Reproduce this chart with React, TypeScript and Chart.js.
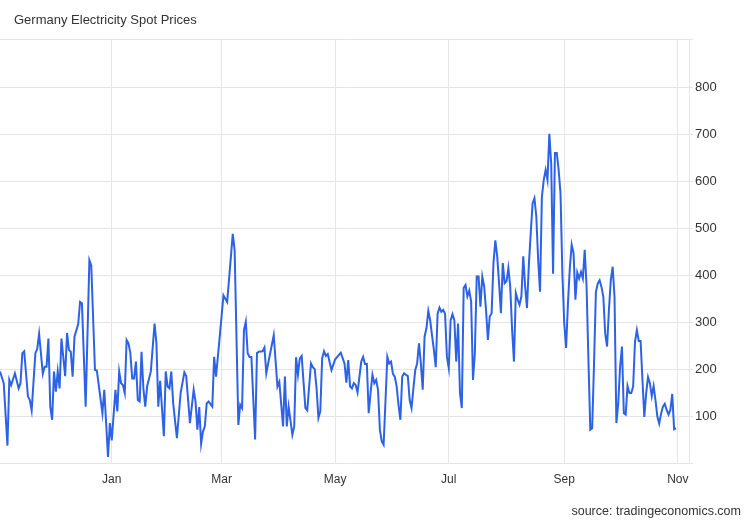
import { useEffect, useRef } from "react"
import { Chart, registerables } from "chart.js"

Chart.register(...registerables)

// day offset from 1 Jan 2022 and the daily spot price (EUR/MWh) on that day
const days: number[] = [
    -60, -58, -56, -55, -54, -52, -50, -49, -48, -47, -45, -44, -43, -41, -40, -39,
    -37, -36, -35, -34, -33, -32, -31, -30, -29, -28, -27, -25, -24, -23, -22, -21,
    -20, -18, -17, -16, -14, -12, -11, -9, -8, -5, -4, -2, -1, 0, 2, 3,
    4, 5, 6, 7, 8, 9, 10, 11, 12, 13, 14, 15, 16, 17, 18, 19,
    21, 23, 24, 25, 26, 28, 29, 30, 31, 32, 33, 35, 37, 39, 40, 42,
    44, 45, 46, 47, 48, 49, 50, 51, 52, 54, 55, 56, 58, 60, 61, 62,
    65, 66, 68, 69, 70, 71, 72, 73, 74, 75, 77, 78, 79, 81, 82, 83,
    84, 87, 89, 90, 92, 93, 94, 95, 97, 98, 99, 100, 101, 102, 104, 105,
    107, 108, 109, 110, 111, 112, 113, 114, 115, 116, 118, 120, 123, 125, 126, 127,
    128, 129, 130, 131, 132, 134, 135, 136, 137, 138, 139, 140, 141, 142, 143, 144,
    145, 146, 147, 148, 149, 150, 151, 152, 153, 154, 155, 156, 157, 158, 159, 160,
    161, 162, 163, 164, 165, 166, 167, 168, 169, 170, 171, 172, 173, 174, 175, 176,
    177, 178, 179, 180, 181, 182, 183, 184, 185, 186, 187, 188, 189, 190, 191, 192,
    193, 194, 195, 196, 197, 198, 199, 200, 201, 202, 203, 204, 205, 206, 207, 208,
    209, 210, 211, 212, 213, 214, 215, 216, 217, 218, 219, 220, 221, 222, 223, 224,
    225, 226, 227, 228, 229, 230, 231, 232, 233, 234, 235, 236, 237, 238, 239, 240,
    241, 242, 243, 244, 245, 246, 247, 248, 249, 250, 251, 252, 253, 254, 255, 256,
    257, 258, 259, 260, 261, 262, 263, 264, 265, 266, 267, 268, 269, 270, 271, 272,
    273, 274, 275, 276, 277, 278, 279, 280, 281, 282, 283, 284, 285, 286, 287, 288,
    289, 290, 291, 292, 293, 294, 295, 296, 297, 298, 299, 300, 301, 302, 303
]

const prices: number[] = [
    195, 170, 37, 177, 166, 191, 159, 170, 234, 238, 142, 134, 112, 234, 243, 275,
    190, 205, 205, 265, 120, 92, 195, 152, 195, 159, 265, 185, 277, 241, 237, 184,
    269, 296, 343, 340, 120, 432, 421, 198, 197, 106, 156, 13, 85, 48, 156, 110,
    195, 170, 166, 149, 262, 255, 234, 180, 180, 216, 134, 131, 237, 159, 120, 163,
    195, 297, 255, 120, 175, 57, 195, 163, 159, 195, 127, 53, 149, 193, 185, 85,
    156, 131, 71, 119, 41, 67, 78, 127, 131, 120, 226, 184, 269, 357, 350, 343,
    488, 453, 81, 124, 117, 283, 301, 234, 226, 226, 50, 234, 237, 238, 246, 191,
    212, 272, 163, 173, 78, 184, 78, 120, 60, 78, 225, 188, 223, 228, 117, 112,
    212, 204, 200, 159, 96, 110, 223, 238, 228, 232, 198, 221, 235, 212, 171, 219,
    163, 159, 170, 166, 150, 216, 226, 211, 211, 106, 149, 188, 170, 177, 156, 71,
    46, 39, 131, 226, 212, 216, 190, 184, 163, 124, 92, 184, 191, 188, 185, 134,
    117, 159, 198, 212, 255, 212, 156, 269, 287, 324, 304, 272, 241, 204, 318, 331,
    322, 326, 318, 226, 202, 304, 317, 304, 216, 297, 150, 117, 373, 379, 355, 367,
    344, 177, 234, 397, 397, 333, 397, 376, 326, 262, 312, 319, 426, 474, 440, 383,
    319, 426, 383, 387, 415, 376, 284, 216, 362, 348, 337, 355, 440, 376, 330, 422,
    489, 553, 564, 525, 433, 365, 567, 603, 624, 603, 701, 638, 403, 660, 660, 624,
    574, 404, 298, 245, 340, 415, 465, 447, 348, 406, 393, 407, 393, 454, 375, 219,
    71, 74, 212, 364, 382, 389, 375, 354, 276, 248, 326, 389, 418, 354, 85, 127,
    205, 248, 106, 103, 164, 149, 149, 163, 258, 283, 260, 260, 177, 98, 149, 183,
    170, 142, 164, 134, 99, 84, 105, 120, 126, 113, 103, 113, 147, 72, 74
]

// 1 Jan, 1 Mar, 1 May, 1 Jul, 1 Sep, 1 Nov 2022
const monthTicks = [0, 59, 120, 181, 243, 304]
const monthLabels = ["Jan", "Mar", "May", "Jul", "Sep", "Nov"]
const priceTicks = [100, 200, 300, 400, 500, 600, 700, 800]

const Y_MAX = 903
const FONT = 'Arial, "Liberation Sans", sans-serif'
const GRID = "#e6e6e6"

const App = () => {
    const canvasRef = useRef<HTMLCanvasElement>(null)

    useEffect(() => {
        if (!canvasRef.current) return

        const chart = new Chart(canvasRef.current, {
            type: "line",
            data: {
                datasets: [
                    {
                        data: days.map((d, i) => ({ x: d, y: prices[i] })),
                        borderColor: "#2d62e6",
                        borderWidth: 2,
                        pointRadius: 0,
                        tension: 0,
                        fill: false
                    }
                ]
            },
            options: {
                animation: false,
                responsive: true,
                maintainAspectRatio: false,
                layout: { padding: { top: 39, left: 0, right: 0, bottom: 0 } },
                plugins: {
                    legend: { display: false },
                    tooltip: { enabled: false }
                },
                scales: {
                    x: {
                        type: "linear",
                        min: -60,
                        max: 310,
                        afterBuildTicks: (scale: any) => {
                            scale.ticks = monthTicks.map((value) => ({ value }))
                        },
                        afterFit: (scale: any) => {
                            scale.height = 57
                        },
                        grid: { color: GRID, drawTicks: false },
                        border: { display: false },
                        ticks: {
                            padding: 9,
                            color: "#333",
                            font: { family: FONT, size: 12 },
                            maxRotation: 0,
                            callback: (value: any) => {
                                const i = monthTicks.indexOf(Number(value))
                                return i >= 0 ? monthLabels[i] : ""
                            }
                        }
                    },
                    y: {
                        position: "right",
                        min: 0,
                        max: Y_MAX,
                        afterBuildTicks: (scale: any) => {
                            scale.ticks = [0, ...priceTicks, Y_MAX].map((value) => ({ value }))
                        },
                        afterFit: (scale: any) => {
                            scale.width = 61
                        },
                        grid: { color: GRID, tickLength: 4 },
                        border: { color: GRID },
                        ticks: {
                            padding: 2,
                            color: "#333",
                            font: { family: FONT, size: 13 },
                            callback: (value: any) =>
                                priceTicks.includes(Number(value)) ? String(value) : ""
                        }
                    }
                }
            }
        })

        return () => chart.destroy()
    }, [])

    return (
        <div
            style={{
                position: "fixed",
                left: 0,
                top: 0,
                width: 750,
                height: 520,
                background: "#fff",
                fontFamily: FONT
            }}
        >
            <canvas ref={canvasRef}></canvas>
            <div
                style={{
                    position: "absolute",
                    left: 14,
                    top: 12,
                    fontSize: 13,
                    lineHeight: "16px",
                    color: "#333"
                }}
            >
                Germany Electricity Spot Prices
            </div>
            <div
                style={{
                    position: "absolute",
                    right: 9,
                    top: 503,
                    fontSize: 12.5,
                    lineHeight: "16px",
                    color: "#333"
                }}
            >
                source: tradingeconomics.com
            </div>
        </div>
    )
}

export default App
